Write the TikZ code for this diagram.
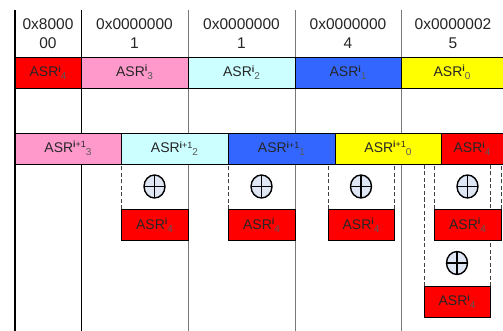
\documentclass[tikz,border=0pt]{standalone}
\usepackage{fontspec}
\setmainfont{Liberation Sans}
\usetikzlibrary{shapes.geometric,backgrounds}

\definecolor{asrred}{RGB}{255,0,0}
\definecolor{asrpink}{RGB}{255,153,204}
\definecolor{asrcyan}{RGB}{204,255,255}
\definecolor{asrblue}{RGB}{51,102,255}
\definecolor{asryellow}{RGB}{255,255,0}
\definecolor{xorfill}{RGB}{222,231,243}
\definecolor{colgray}{RGB}{120,120,120}
\definecolor{subgray}{RGB}{90,90,90}

% register label: ASR with superscript round index and subscript word index
\newcommand{\asrlabel}[2]{{\fontsize{14}{16}\selectfont ASR\raisebox{4.5pt}{\fontsize{9}{9}\selectfont #1}\raisebox{-3pt}{\fontsize{10}{10}\selectfont\color{subgray}#2}}}

\tikzset{
  reg/.style={draw=black, line width=0.8pt, anchor=north west, minimum height=31pt,
              inner sep=0pt, outer sep=0pt, text=black!85},
  hdr/.style={align=center, font=\fontsize{15.5}{19}\selectfont, text=black!85, inner sep=0pt},
  xorop/.style={ellipse, draw=black, line width=1.4pt, fill=xorfill,
                minimum width=21pt, minimum height=23pt, inner sep=0pt,
                path picture={\draw[line width=1.2pt]
                  (path picture bounding box.north) -- (path picture bounding box.south)
                  (path picture bounding box.west) -- (path picture bounding box.east);}},
  dashln/.style={draw=black!75, line width=0.6pt, dash pattern=on 4pt off 2.5pt},
  colline/.style={draw=colgray, line width=1pt},
}

\begin{document}
\begin{tikzpicture}[x=1pt, y=-1pt]
\clip (0,0) rectangle (503,331);

% column headers
\node[hdr] (h0) at (48,33.5)  {0x8000\\00};
\node[hdr] (h1) at (134.5,33.5) {0x0000000\\1};
\node[hdr] (h2) at (241.5,33.5) {0x0000000\\1};
\node[hdr] (h3) at (348,33.5) {0x0000000\\4};
\node[hdr] (h4) at (453,33.5) {0x0000002\\5};

% round i registers
\node[reg, fill=asrred,    minimum width=66pt]  (a4) at (15,57)  {\asrlabel{\textbf{i}}{4}};
\node[reg, fill=asrpink,   minimum width=107pt] (a3) at (81,57)  {\asrlabel{\textbf{i}}{3}};
\node[reg, fill=asrcyan,   minimum width=107pt] (a2) at (188,57) {\asrlabel{\textbf{i}}{2}};
\node[reg, fill=asrblue,   minimum width=106pt] (a1) at (295,57) {\asrlabel{\textbf{i}}{1}};
\node[reg, fill=asryellow, minimum width=112pt] (a0) at (401,57) {\hspace*{-10pt}\asrlabel{\textbf{i}}{0}};

% round i+1 registers (shifted)
\node[reg, fill=asrpink,   minimum width=106pt] (b3) at (15,133)  {\asrlabel{\textbf{i}+1}{3}};
\node[reg, fill=asrcyan,   minimum width=107pt] (b2) at (121,133) {\asrlabel{\textbf{i}+1}{2}};
\node[reg, fill=asrblue,   minimum width=107pt] (b1) at (228,133) {\asrlabel{\textbf{i}+1}{1}};
\node[reg, fill=asryellow, minimum width=106pt] (b0) at (335,133) {\asrlabel{\textbf{i}+1}{0}};
\node[reg, fill=asrred,    minimum width=72pt]  (b4) at (441,133) {\hspace*{-10pt}\asrlabel{\textbf{i}}{4}};

% xor operands
\node[reg, fill=asrred, minimum width=67pt] (c1) at (121,209.5) {\asrlabel{\textbf{i}}{4}};
\node[reg, fill=asrred, minimum width=67pt] (c2) at (228,209.5) {\asrlabel{\textbf{i}}{4}};
\node[reg, fill=asrred, minimum width=66pt] (c3) at (328,209.5) {\asrlabel{\textbf{i}}{4}};
\node[reg, fill=asrred, minimum width=67pt] (c4) at (434,209.5) {\asrlabel{\textbf{i}}{4}};
\node[reg, fill=asrred, minimum width=66pt] (c5) at (424,286)   {\asrlabel{\textbf{i}}{4}};

% xor operators
\node[xorop] (x1) at (154.5,186.5) {};
\node[xorop] (x2) at (261.5,186.5) {};
\node[xorop] (x3) at (361,186.5) {};
\node[xorop] (x4) at (467.5,186.5) {};
\node[xorop] (x5) at (457,263) {};

\begin{scope}[on background layer]
  \fill[white] (0,0) rectangle (503,331);
  % column separators
  \draw[black, line width=2pt] (15,10) -- (15,331);
  \draw[black, line width=1pt] (81,10) -- (81,331);
  \draw[colline] (188,10) -- (188,331);
  \draw[colline] (295,10) -- (295,331);
  \draw[colline] (401,10) -- (401,331);
  % dashed guides from the shifted row down to each operand
  \draw[dashln] (c1.north west) -- (c1.north west |- b2.south);
  \draw[dashln] (c2.north west) -- (c2.north west |- b2.south);
  \draw[dashln] (c3.north west) -- (c3.north west |- b2.south);
  \draw[dashln] (c3.north east) -- (c3.north east |- b2.south);
  \draw[dashln] (c4.north west) -- (c4.north west |- b2.south);
  \draw[dashln] (c4.north east) -- (c4.north east |- b2.south);
  \draw[dashln] (c5.north west) -- (c5.north west |- b2.south);
  \draw[dashln] (c5.north east) -- (c5.north east |- b2.south);
\end{scope}
\end{tikzpicture}
\end{document}
